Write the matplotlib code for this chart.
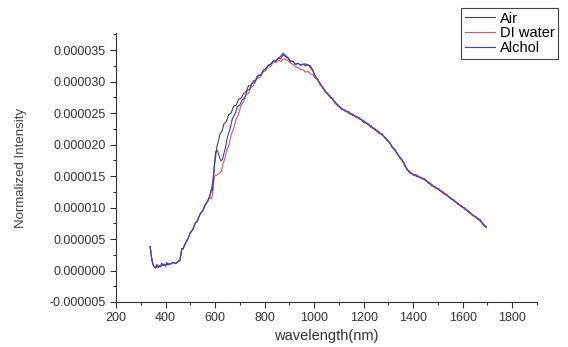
import matplotlib
matplotlib.use("Agg")
import matplotlib.pyplot as plt
from matplotlib.ticker import MultipleLocator, FormatStrFormatter

# wavelengths (nm) and normalized intensities (x1e-6)
start_wl = [338, 342, 346, 350, 355, 360, 365, 370, 375, 380, 385, 390, 395, 400,
            405, 410, 415, 420, 430, 440, 450, 458, 462, 466, 470, 480, 490, 500,
            510, 520, 530, 540, 550, 560, 570]
start_val = [3.8, 2.5, 1.5, 0.9, 0.6, 0.4, 0.9, 0.5, 0.8, 0.6, 1.1, 0.8, 1.0, 0.7,
             1.2, 0.9, 1.1, 1.0, 1.3, 1.1, 1.4, 1.6, 2.6, 3.5, 3.4, 4.3, 5.0, 6.0,
             6.5, 7.5, 8.0, 9.0, 9.5, 10.4, 11.0]

air_mid_wl = [580, 586, 592, 597, 602, 608, 614, 620, 628, 636, 645, 655, 665, 675,
              685, 695, 705, 715, 725, 735, 745, 755, 765, 775]
air_mid = [12.0, 12.8, 14.6, 16.5, 18.0, 19.8, 20.6, 21.7, 22.1, 23.3, 23.6, 24.7,
           25.0, 26.1, 26.2, 27.2, 27.3, 28.1, 28.4, 29.3, 29.4, 30.1, 30.2, 31.0]

water_mid_wl = [580, 586, 590, 594, 598, 605, 612, 620, 626, 632, 640, 648, 656, 665,
                675, 685, 695, 705, 715, 725, 735, 745, 755, 765, 775]
water_mid = [11.6, 11.4, 12.2, 14.0, 15.0, 15.1, 15.3, 15.5, 15.8, 16.9, 17.8, 19.2,
             19.9, 21.6, 22.5, 24.0, 24.8, 26.2, 26.8, 27.9, 28.1, 29.1, 29.3, 30.3,
             30.5]

alc_mid_wl = [580, 586, 590, 594, 598, 602, 607, 612, 618, 624, 630, 636, 642, 650,
              660, 670, 680, 690, 700, 710, 720, 730, 740, 750, 760, 770]
alc_mid = [12.0, 13.1, 12.7, 14.6, 17.2, 18.8, 19.1, 18.8, 18.0, 17.4, 17.6, 18.6,
           19.5, 21.2, 22.4, 24.1, 24.8, 26.0, 26.3, 27.1, 27.4, 28.6, 28.8, 29.8,
           29.8, 30.8]

tail_wl = [785, 795, 805, 815, 825, 835, 845, 855, 865, 875, 885, 895, 905, 915, 925,
           935, 945, 955, 965, 975, 985, 995, 1005, 1015, 1025, 1035, 1045, 1055,
           1065, 1075, 1085, 1095, 1110, 1125, 1140, 1155, 1170, 1185, 1200, 1215,
           1230, 1245, 1260, 1275, 1290, 1305, 1315, 1325, 1335, 1345, 1355, 1365,
           1375, 1385, 1400, 1415, 1430, 1445, 1460, 1475, 1490, 1505, 1520, 1535,
           1550, 1565, 1580, 1595, 1610, 1625, 1640, 1655, 1670, 1685, 1695]
air_tail = [31.0, 31.8, 32.0, 32.6, 32.7, 33.3, 33.1, 33.7, 33.6, 34.3, 33.9, 33.7,
            33.1, 33.2, 32.7, 32.9, 32.6, 32.8, 32.5, 32.7, 32.2, 31.7, 30.6, 30.4,
            29.5, 29.1, 28.3, 28.1, 27.4, 27.3, 26.5, 26.3, 25.6, 25.5, 24.9, 24.8,
            24.3, 24.2, 23.5, 23.4, 22.7, 22.5, 21.8, 21.7, 20.8, 20.4, 19.5, 19.3,
            18.5, 18.1, 17.5, 16.9, 16.0, 15.7, 15.2, 15.1, 14.7, 14.6, 13.9, 13.6,
            13.1, 12.9, 12.3, 12.1, 11.4, 11.2, 10.5, 10.3, 9.7, 9.4, 8.7, 8.5, 7.9,
            7.3, 6.9]
water_tail = [30.8, 31.6, 31.7, 32.5, 32.4, 33.1, 33.0, 33.4, 33.2, 33.6, 33.5, 33.3,
              32.9, 32.7, 32.3, 32.2, 31.9, 31.9, 31.5, 31.6, 31.2, 31.1, 30.5, 30.3,
              29.4, 29.2, 28.3, 28.2, 27.4, 27.3, 26.5, 26.4, 25.7, 25.4, 24.9, 24.9,
              24.3, 24.1, 23.7, 23.3, 22.7, 22.6, 21.8, 21.6, 20.9, 20.3, 19.6, 19.2,
              18.6, 18.0, 17.4, 17.0, 15.9, 15.8, 15.1, 15.2, 14.6, 14.5, 14.0, 13.7,
              13.0, 13.0, 12.2, 12.0, 11.5, 11.1, 10.6, 10.2, 9.7, 9.3, 8.8, 8.4, 7.8,
              7.4, 6.8]
alc_tail = [31.1, 31.7, 32.1, 32.5, 32.8, 33.2, 33.3, 33.7, 34.0, 34.5, 34.1, 33.8,
            33.3, 33.2, 32.7, 32.9, 32.6, 32.7, 32.8, 32.6, 32.5, 31.8, 30.9, 30.2,
            29.7, 28.9, 28.6, 27.9, 27.7, 27.1, 26.8, 26.1, 25.8, 25.3, 25.2, 24.6,
            24.5, 24.0, 23.8, 23.2, 23.0, 22.3, 22.1, 21.5, 21.0, 20.2, 19.7, 19.1,
            18.7, 17.9, 17.6, 16.7, 16.2, 15.5, 15.3, 14.9, 14.8, 14.4, 14.1, 13.4,
            13.3, 12.7, 12.5, 11.9, 11.6, 11.0, 10.7, 10.1, 9.9, 9.2, 8.9, 8.3, 8.1,
            7.1, 6.9]

series = [
    ("Air", air_mid_wl, air_mid, air_tail, "#3d4a44"),
    ("DI water", water_mid_wl, water_mid, water_tail, "#e05555"),
    ("Alchol", alc_mid_wl, alc_mid, alc_tail, "#3b3bd6"),
]

plt.rcParams['font.family'] = ['Liberation Sans', 'DejaVu Sans']

fig = plt.figure(figsize=(5.68, 3.47), dpi=100)
ax = fig.add_axes([116 / 568, 1 - 302 / 347, (537 - 116) / 568, (302 - 33) / 347])

for name, mwl, mval, tval, col in series:
    wl = start_wl + mwl + tail_wl
    val = [v * 1e-6 for v in start_val + mval + tval]
    ax.plot(wl, val, color=col, lw=0.8, label=name)

ax.set_xlim(200, 1900)
ax.set_ylim(-0.000005, 0.0000377)
ax.xaxis.set_major_locator(MultipleLocator(200))
ax.xaxis.set_minor_locator(MultipleLocator(100))
ax.yaxis.set_major_locator(MultipleLocator(0.000005))
ax.yaxis.set_minor_locator(MultipleLocator(0.0000025))
ax.yaxis.set_major_formatter(FormatStrFormatter('%.6f'))
ax.tick_params(which='major', direction='out', length=4, width=0.8,
               labelsize=9, colors='#333333')
ax.tick_params(which='minor', direction='out', length=2.5, width=0.8, colors='#333333')
for s in ['top', 'right']:
    ax.spines[s].set_visible(False)
for s in ['left', 'bottom']:
    ax.spines[s].set_color('#333333')

ax.set_xlabel('wavelength(nm)', fontsize=10.5, color='#333333', labelpad=3)
ax.set_ylabel('Normalized Intensity', fontsize=9.5, color='#444444', labelpad=16)

leg = fig.legend(loc='upper right', bbox_to_anchor=(561 / 568, 1 - 5 / 347),
                 fontsize=10.5, handlelength=2.1, fancybox=False, framealpha=1,
                 borderpad=0.25, labelspacing=0.05, handletextpad=0.3,
                 borderaxespad=0.2, edgecolor='#444444')
leg.get_frame().set_linewidth(0.8)

fig.savefig('out.png', dpi=100)
